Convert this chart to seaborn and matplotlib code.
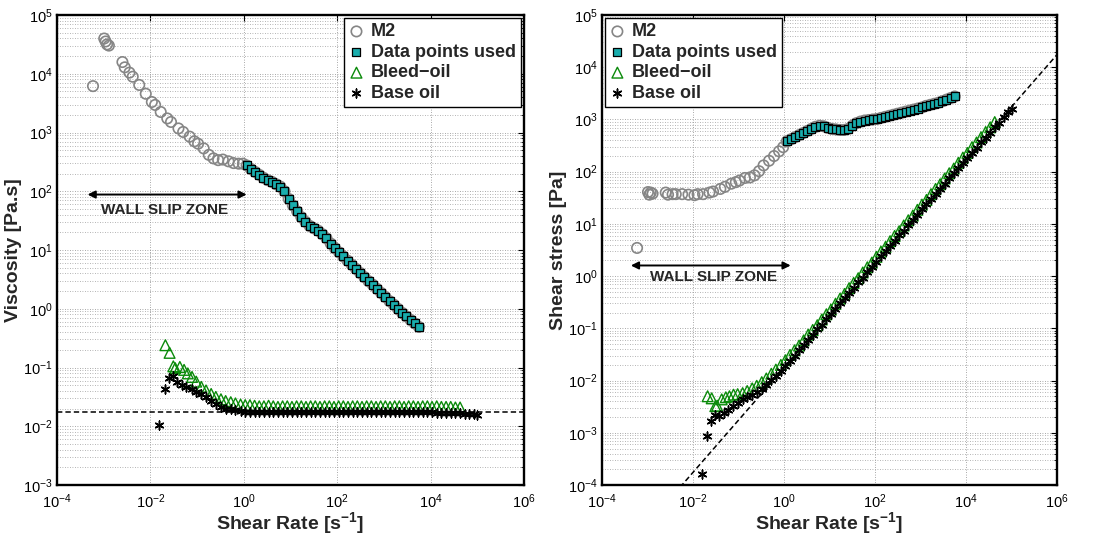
import numpy as np
import matplotlib
matplotlib.use("Agg")
import matplotlib.pyplot as plt
import seaborn as sns
from matplotlib.ticker import LogLocator, NullLocator

# ---- data (log10 values) ----
# M2 grease: shear rate, viscosity and shear stress
m2_log_rate = [-3.23, -2.99, -2.96, -2.93, -2.89, -2.60, -2.55, -2.45, -2.38, -2.24,
               -2.10, -1.97, -1.90, -1.78, -1.64, -1.56, -1.40, -1.30, -1.16, -1.06,
               -0.98, -0.86, -0.75, -0.65, -0.55, -0.45, -0.33, -0.22, -0.11, -0.02,
               0.06, 0.15, 0.24, 0.33, 0.42, 0.51, 0.60, 0.69, 0.78, 0.87,
               0.96, 1.05, 1.14, 1.23, 1.32, 1.41, 1.50, 1.59, 1.68, 1.77,
               1.86, 1.95, 2.04, 2.13, 2.22, 2.31, 2.40, 2.49, 2.58, 2.67,
               2.76, 2.85, 2.94, 3.03, 3.12, 3.21, 3.30, 3.39, 3.48, 3.57,
               3.66, 3.75]
m2_log_visc = [3.79, 4.60, 4.55, 4.50, 4.48, 4.20, 4.11, 4.02, 3.95, 3.81,
               3.66, 3.52, 3.47, 3.35, 3.24, 3.18, 3.07, 3.01, 2.93, 2.85,
               2.81, 2.73, 2.62, 2.56, 2.53, 2.54, 2.51, 2.48, 2.47, 2.47,
               2.44, 2.38, 2.33, 2.28, 2.23, 2.19, 2.16, 2.12, 2.08, 2.00,
               1.87, 1.76, 1.66, 1.56, 1.48, 1.41, 1.37, 1.33, 1.27, 1.20,
               1.11, 1.03, 0.96, 0.89, 0.82, 0.75, 0.68, 0.61, 0.54, 0.47,
               0.41, 0.34, 0.27, 0.20, 0.13, 0.07, 0.00, -0.07, -0.13, -0.19,
               -0.25, -0.31]
m2_log_stress = [0.54, 1.61, 1.56, 1.60, 1.58, 1.60, 1.56, 1.57, 1.57, 1.57,
                 1.56, 1.55, 1.57, 1.57, 1.60, 1.62, 1.67, 1.71, 1.77, 1.80,
                 1.83, 1.88, 1.89, 1.93, 2.01, 2.12, 2.21, 2.30, 2.39, 2.47,
                 2.58, 2.62, 2.66, 2.70, 2.74, 2.78, 2.82, 2.86, 2.88, 2.87,
                 2.84, 2.82, 2.81, 2.80, 2.80, 2.82, 2.88, 2.93, 2.96, 2.98,
                 2.99, 3.00, 3.01, 3.03, 3.05, 3.07, 3.09, 3.11, 3.13, 3.15,
                 3.17, 3.19, 3.21, 3.23, 3.26, 3.28, 3.30, 3.32, 3.35, 3.38,
                 3.41, 3.44]
used_from_rate = 1.0  # s^-1, start of the "data points used" range

# bleed-oil
bleed_log_rate = [-1.68, -1.59, -1.51, -1.47, -1.37, -1.28, -1.20, -1.11, -1.02, -0.91,
                  -0.81, -0.70, -0.60, -0.49, -0.39, -0.28, -0.18, -0.07, 0.03, 0.13,
                  0.23, 0.33, 0.43, 0.53, 0.63, 0.73, 0.83, 0.93, 1.03, 1.13,
                  1.23, 1.33, 1.43, 1.53, 1.63, 1.73, 1.83, 1.93, 2.03, 2.13,
                  2.23, 2.33, 2.43, 2.53, 2.63, 2.73, 2.83, 2.93, 3.03, 3.13,
                  3.23, 3.33, 3.43, 3.53, 3.63, 3.73, 3.83, 3.93, 4.03, 4.13,
                  4.23, 4.33, 4.43, 4.53, 4.63]
bleed_log_visc = [-0.62, -0.75, -0.98, -1.01, -0.99, -1.04, -1.10, -1.16, -1.24, -1.33,
                  -1.39, -1.45, -1.50, -1.54, -1.57, -1.59, -1.61, -1.63, -1.64, -1.64,
                  -1.65, -1.66, -1.66, -1.65, -1.66, -1.67, -1.66, -1.66, -1.67, -1.66,
                  -1.66, -1.67, -1.66, -1.66, -1.67, -1.66, -1.66, -1.67, -1.66, -1.66,
                  -1.67, -1.66, -1.66, -1.67, -1.66, -1.66, -1.67, -1.66, -1.66, -1.67,
                  -1.66, -1.66, -1.67, -1.66, -1.66, -1.67, -1.66, -1.66, -1.67, -1.66,
                  -1.67, -1.67, -1.67, -1.68, -1.68]
bleed_log_stress = [-2.30, -2.34, -2.49, -2.48, -2.36, -2.32, -2.30, -2.27, -2.26, -2.24,
                    -2.20, -2.15, -2.10, -2.03, -1.96, -1.87, -1.79, -1.70, -1.61, -1.51,
                    -1.42, -1.33, -1.23, -1.12, -1.03, -0.94, -0.83, -0.73, -0.64, -0.53,
                    -0.43, -0.34, -0.23, -0.13, -0.04, 0.07, 0.17, 0.26, 0.37, 0.47,
                    0.56, 0.67, 0.77, 0.86, 0.97, 1.07, 1.16, 1.27, 1.37, 1.46,
                    1.57, 1.67, 1.76, 1.87, 1.97, 2.06, 2.17, 2.27, 2.36, 2.47,
                    2.56, 2.66, 2.76, 2.85, 2.95]

# base oil
base_log_rate = [-1.81, -1.69, -1.60, -1.51, -1.44, -1.33, -1.23, -1.12, -1.02, -0.91,
                 -0.81, -0.70, -0.60, -0.49, -0.39, -0.28, -0.18, -0.07, 0.03, 0.13,
                 0.23, 0.33, 0.43, 0.53, 0.63, 0.73, 0.83, 0.93, 1.03, 1.13,
                 1.23, 1.33, 1.43, 1.53, 1.63, 1.73, 1.83, 1.93, 2.03, 2.13,
                 2.23, 2.33, 2.43, 2.53, 2.63, 2.73, 2.83, 2.93, 3.03, 3.13,
                 3.23, 3.33, 3.43, 3.53, 3.63, 3.73, 3.83, 3.93, 4.03, 4.13,
                 4.23, 4.33, 4.43, 4.53, 4.63, 4.73, 4.83, 4.93, 5.00]
base_log_visc = [-1.97, -1.37, -1.18, -1.15, -1.24, -1.30, -1.34, -1.37, -1.41, -1.45,
                 -1.51, -1.57, -1.62, -1.67, -1.70, -1.71, -1.73, -1.74, -1.75, -1.75,
                 -1.76, -1.75, -1.75, -1.76, -1.75, -1.75, -1.76, -1.75, -1.75, -1.76,
                 -1.75, -1.75, -1.76, -1.75, -1.75, -1.76, -1.75, -1.75, -1.76, -1.75,
                 -1.75, -1.76, -1.75, -1.75, -1.76, -1.75, -1.75, -1.76, -1.75, -1.75,
                 -1.76, -1.75, -1.76, -1.76, -1.75, -1.76, -1.76, -1.76, -1.76, -1.77,
                 -1.77, -1.77, -1.78, -1.78, -1.78, -1.79, -1.79, -1.79, -1.80]
base_log_stress = [-3.78, -3.06, -2.78, -2.66, -2.68, -2.63, -2.57, -2.49, -2.43, -2.36,
                   -2.32, -2.27, -2.22, -2.16, -2.09, -1.99, -1.91, -1.81, -1.72, -1.62,
                   -1.53, -1.42, -1.32, -1.23, -1.12, -1.02, -0.93, -0.82, -0.72, -0.63,
                   -0.52, -0.42, -0.33, -0.22, -0.12, -0.03, 0.08, 0.18, 0.27, 0.38,
                   0.48, 0.57, 0.68, 0.78, 0.87, 0.98, 1.08, 1.17, 1.28, 1.38,
                   1.47, 1.58, 1.67, 1.77, 1.88, 1.97, 2.07, 2.17, 2.27, 2.36,
                   2.46, 2.56, 2.65, 2.75, 2.85, 2.94, 3.04, 3.14, 3.20]

base_oil_fit_visc = 0.0175  # Pa.s, Newtonian fit (dashed lines)

m2_rate = 10 ** np.array(m2_log_rate)
m2_visc = 10 ** np.array(m2_log_visc)
m2_stress = 10 ** np.array(m2_log_stress)
used = m2_rate >= used_from_rate
bleed_rate = 10 ** np.array(bleed_log_rate)
bleed_visc = 10 ** np.array(bleed_log_visc)
bleed_stress = 10 ** np.array(bleed_log_stress)
base_rate = 10 ** np.array(base_log_rate)
base_visc = 10 ** np.array(base_log_visc)
base_stress = 10 ** np.array(base_log_stress)

# ---- style ----
sns.set_theme(style="white")
plt.rcParams['font.family'] = ['Liberation Sans', 'DejaVu Sans']
plt.rcParams['mathtext.fontset'] = 'custom'
plt.rcParams['mathtext.rm'] = 'Liberation Sans'
plt.rcParams['mathtext.it'] = 'Liberation Sans:italic'
plt.rcParams['mathtext.bf'] = 'Liberation Sans:bold'

GRAY = '#868686'
CYAN = '#19adad'
GREEN = '#0a8a0a'
STAR = (6, 2, 0)


def style_axes(ax, ymin, ymax):
    ax.set_xscale('log')
    ax.set_yscale('log')
    ax.set_xlim(1e-4, 1e6)
    ax.set_ylim(ymin, ymax)
    ax.set_xticks([1e-4, 1e-2, 1e0, 1e2, 1e4, 1e6])
    ax.xaxis.set_minor_locator(NullLocator())
    ax.yaxis.set_major_locator(LogLocator(base=10, numticks=20))
    ax.yaxis.set_minor_locator(LogLocator(base=10, subs=np.arange(2, 10), numticks=20))
    ax.grid(True, which='major', axis='both', color='#8c8c8c', ls=(0, (1, 2)), lw=0.6)
    ax.grid(True, which='minor', axis='y', color='#9c9c9c', ls=(0, (1, 2)), lw=0.6)
    ax.tick_params(which='both', direction='in', top=True, right=True,
                   labelsize=10.5, colors='black', pad=3)
    ax.tick_params(axis='x', which='major', pad=5)
    ax.tick_params(which='major', length=4, width=0.8)
    ax.tick_params(which='minor', length=2, width=0.6)
    for s in ax.spines.values():
        s.set_linewidth(1.7)
        s.set_color('black')
    ax.set_xlabel('Shear Rate [s$^{\\mathbf{-1}}$]', fontsize=14, fontweight='bold',
                  labelpad=0)


def draw_series(ax, y_m2, y_bleed, y_base):
    sns.scatterplot(x=m2_rate, y=y_m2, ax=ax, marker='o', s=56, facecolor='none',
                    edgecolor=GRAY, linewidth=1.2, label='M2', zorder=3)
    sns.scatterplot(x=m2_rate[used], y=y_m2[used], ax=ax, marker='s', s=28,
                    color=CYAN, edgecolor='black', linewidth=0.9,
                    label='Data points used', zorder=4)
    sns.scatterplot(x=bleed_rate, y=y_bleed, ax=ax, marker='^', s=60, facecolor='none',
                    edgecolor=GREEN, linewidth=1.0, label='Bleed\u2212oil', zorder=4)
    sns.scatterplot(x=base_rate, y=y_base, ax=ax, marker=STAR, s=40, color='black',
                    linewidth=1.1, label='Base oil', zorder=5)


def wall_slip(ax, x0, x1, y_arrow, x_text, y_text):
    ax.annotate('', xy=(x1, y_arrow), xytext=(x0, y_arrow),
                arrowprops=dict(arrowstyle='<|-|>', color='black', lw=1.4,
                                mutation_scale=11, shrinkA=0, shrinkB=0), zorder=6)
    ax.text(x_text, y_text, 'WALL SLIP ZONE', ha='center', va='center',
            fontsize=11, fontweight='bold', zorder=6)


fig = plt.figure(figsize=(10.97, 5.37), dpi=100)
ax1 = fig.add_axes([0.052, 0.0968, 0.4257, 0.8752])
ax2 = fig.add_axes([0.5488, 0.0968, 0.4148, 0.8752])

# left: viscosity
draw_series(ax1, m2_visc, bleed_visc, base_visc)
ax1.axhline(base_oil_fit_visc, color='black', ls=(0, (3.5, 2)), lw=1.1, zorder=2)
style_axes(ax1, 1e-3, 1e5)
ax1.set_ylabel('Viscosity [Pa.s]', fontsize=14, fontweight='bold', labelpad=1)
wall_slip(ax1, 4.5e-4, 1.15, 88, 2.0e-2, 48)
leg1 = ax1.legend(loc='upper right', prop={'weight': 'bold', 'size': 13},
                  frameon=True, fancybox=False, edgecolor='black', framealpha=1,
                  borderaxespad=0.15, handlelength=0.8, handletextpad=0.4,
                  borderpad=0.3, labelspacing=0.2, scatterpoints=1)
leg1.get_frame().set_linewidth(1.0)

# right: shear stress
draw_series(ax2, m2_stress, bleed_stress, base_stress)
fit_rate = np.array([1e-4, 1e6])
ax2.plot(fit_rate, base_oil_fit_visc * fit_rate, color='black', ls=(0, (3.5, 2)),
         lw=1.1, zorder=2)
style_axes(ax2, 1e-4, 1e5)
ax2.set_ylabel('Shear stress [Pa]', fontsize=14, fontweight='bold', labelpad=1)
wall_slip(ax2, 4.3e-4, 1.4, 1.6, 2.8e-2, 0.95)
leg2 = ax2.legend(loc='upper left', prop={'weight': 'bold', 'size': 13},
                  frameon=True, fancybox=False, edgecolor='black', framealpha=1,
                  borderaxespad=0.15, handlelength=0.8, handletextpad=0.4,
                  borderpad=0.3, labelspacing=0.2, scatterpoints=1)
leg2.get_frame().set_linewidth(1.0)

fig.savefig('out.png', dpi=100)
